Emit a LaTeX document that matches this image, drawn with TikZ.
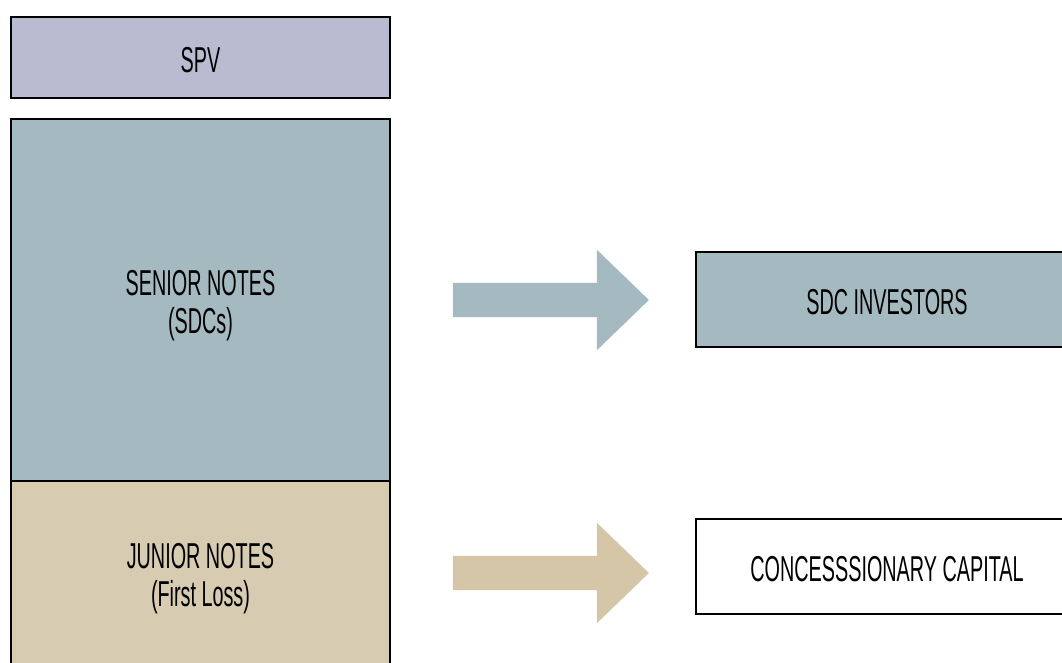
\documentclass[tikz,border=0pt]{standalone}
\usepackage{fontspec}
\setmainfont{Liberation Sans}[FakeStretch=0.55]
\usetikzlibrary{shapes.arrows}

\definecolor{spvfill}{HTML}{B9BBD1}
\definecolor{seniorfill}{HTML}{A4B9C0}
\definecolor{juniorfill}{HTML}{D7CBB2}
\definecolor{juniorarrow}{HTML}{D5C6A8}

% lower a label inside its box without changing the box's extent
\newcommand\txtdown[2]{\raisebox{-#1}[\height][\depth]{#2}}
% two centred lines of a label
\newcommand\twolines[2]{\begin{tabular}{@{}c@{}}#1\\#2\end{tabular}}

\tikzset{
  box/.style={draw=black, line width=2pt, rectangle, inner sep=0pt,
    align=center, font=\fontsize{36}{38}\selectfont},
  flow/.style={single arrow, draw=none, inner xsep=0pt, inner ysep=17pt,
    minimum height=196pt, single arrow head extend=33pt,
    single arrow tip angle=88, single arrow head indent=0pt}
}

\begin{document}
\begin{tikzpicture}[x=1pt, y=-1pt]
  \useasboundingbox (0,0) rectangle (1062,663);
  \clip (0,0) rectangle (1062,663);

  % capital stack of the vehicle
  \node[box, fill=spvfill, minimum width=379pt, minimum height=81pt]
    (spv) at (200.5,57.5) {\txtdown{2.5pt}{SPV}};
  \node[box, fill=seniorfill, minimum width=379pt, minimum height=362pt]
    (senior) at (200.5,300) {\txtdown{6.4pt}{\twolines{SENIOR NOTES}{(SDCs)}}};
  \node[box, fill=juniorfill, minimum width=379pt, minimum height=194pt]
    (junior) at (200.5,578) {\txtdown{1.4pt}{\twolines{JUNIOR NOTES}{(First Loss)}}};

  % investor groups
  \node[box, fill=seniorfill, minimum width=382pt, minimum height=95pt]
    (sdc) at (887,299.5) {\txtdown{2.5pt}{SDC INVESTORS}};
  \node[box, fill=white, minimum width=382pt, minimum height=95pt]
    (conc) at (887,566.5) {\txtdown{2.5pt}{CONCESSSIONARY CAPITAL}};

  % flows from tranches to investors
  \node[flow, fill=seniorfill] (arrowA) at (542,300) {};
  \node[flow, fill=juniorarrow] (arrowB) at (542,573) {};
\end{tikzpicture}
\end{document}
